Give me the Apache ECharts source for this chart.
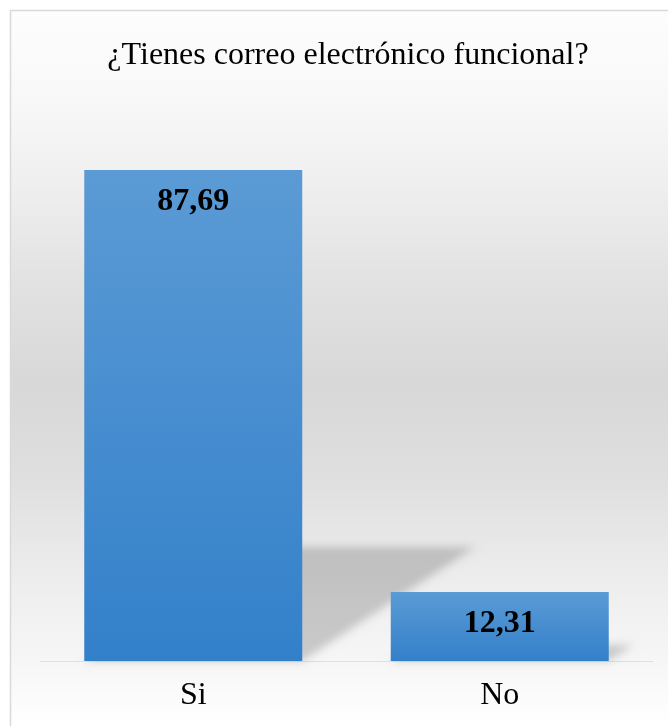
<!DOCTYPE html>
<html>
<head>
<meta charset="utf-8">
<style>
  html, body { margin: 0; padding: 0; background: #ffffff; }
  #chart { width: 668px; height: 726px; }
</style>
<script src="https://cdn.jsdelivr.net/npm/echarts@6/dist/echarts.min.js"></script>
</head>
<body>
<div id="chart"></div>
<script>
// Survey answers and their percentages
const titleText = '¿Tienes correo electrónico funcional?';
const categories = ['Si', 'No'];
const values = [87.69, 12.31];

const SERIF = '"Liberation Serif", "Times New Roman", serif';
const BAR_W = 218;
const SHADOW_SHIFT = 3000; // shape drawn off canvas, only its blurred shadow is shown

const chart = echarts.init(document.getElementById('chart'), null, { renderer: 'canvas' });

// Perspective floor shadow cast by each bar
function renderShadow(params, api) {
  const idx = api.value(0);
  const v = api.value(1);
  const top = api.coord([idx, v]);
  const base = api.coord([idx, 0]);
  const h = base[1] - top[1];
  const rise = h * 0.232;
  const run = h * 0.352;
  const x0 = top[0] - BAR_W / 2 - SHADOW_SHIFT;
  const x1 = top[0] + BAR_W / 2 - SHADOW_SHIFT;
  const y0 = base[1];
  return {
    type: 'polygon',
    shape: { points: [[x0, y0], [x1, y0], [x1 + run, y0 - rise], [x0 + run, y0 - rise]] },
    style: {
      fill: '#000',
      shadowBlur: 9,
      shadowColor: 'rgba(0,0,0,0.18)',
      shadowOffsetX: SHADOW_SHIFT,
      shadowOffsetY: 0
    },
    silent: true
  };
}

const option = {
  animation: false,
  backgroundColor: '#ffffff',
  graphic: [{
    type: 'rect',
    z: -10,
    silent: true,
    shape: { x: 10.5, y: 10.5, width: 700, height: 760 },
    style: {
      stroke: '#d9d9d9',
      lineWidth: 1.5,
      fill: {
        type: 'linear', x: 0, y: 0, x2: 0, y2: 1,
        colorStops: [
          { offset: 0.0, color: '#fdfdfd' },
          { offset: 0.12, color: '#f8f8f8' },
          { offset: 0.23, color: '#efefef' },
          { offset: 0.355, color: '#e2e2e2' },
          { offset: 0.49, color: '#d8d8d8' },
          { offset: 0.605, color: '#dedede' },
          { offset: 0.70, color: '#e8e8e8' },
          { offset: 0.78, color: '#f0f0f0' },
          { offset: 0.855, color: '#f6f6f6' },
          { offset: 0.94, color: '#ffffff' },
          { offset: 1.0, color: '#ffffff' }
        ]
      }
    }
  }],
  title: {
    text: titleText,
    left: 343,
    textAlign: 'center',
    top: 35,
    textStyle: { fontFamily: SERIF, fontSize: 32, fontWeight: 'normal', color: '#000' }
  },
  grid: { left: 40, right: 15, top: 101, bottom: 65 },
  xAxis: {
    type: 'category',
    data: categories,
    axisTick: { show: false },
    axisLine: { show: true, lineStyle: { color: '#e0e0e0', width: 1 } },
    axisLabel: { fontFamily: SERIF, fontSize: 32, color: '#000', margin: 19 }
  },
  yAxis: {
    type: 'value',
    min: 0,
    max: 100,
    show: false,
    splitLine: { show: false }
  },
  series: [
    {
      type: 'custom',
      z: 1,
      clip: false,
      renderItem: renderShadow,
      data: values.map((v, i) => [i, v]),
      encode: { x: 0, y: 1 },
      silent: true
    },
    {
      type: 'bar',
      z: 3,
      barWidth: BAR_W,
      data: values,
      itemStyle: {
        color: {
          type: 'linear', x: 0, y: 0, x2: 0, y2: 1,
          colorStops: [
            { offset: 0, color: '#5b9bd5' },
            { offset: 1, color: '#3380ca' }
          ]
        }
      },
      label: {
        show: true,
        position: 'insideTop',
        distance: 16,
        fontFamily: SERIF,
        fontSize: 32,
        fontWeight: 'bold',
        color: '#000',
        formatter: p => p.value.toFixed(2).replace('.', ',')
      }
    }
  ]
};

chart.setOption(option);
</script>
</body>
</html>
